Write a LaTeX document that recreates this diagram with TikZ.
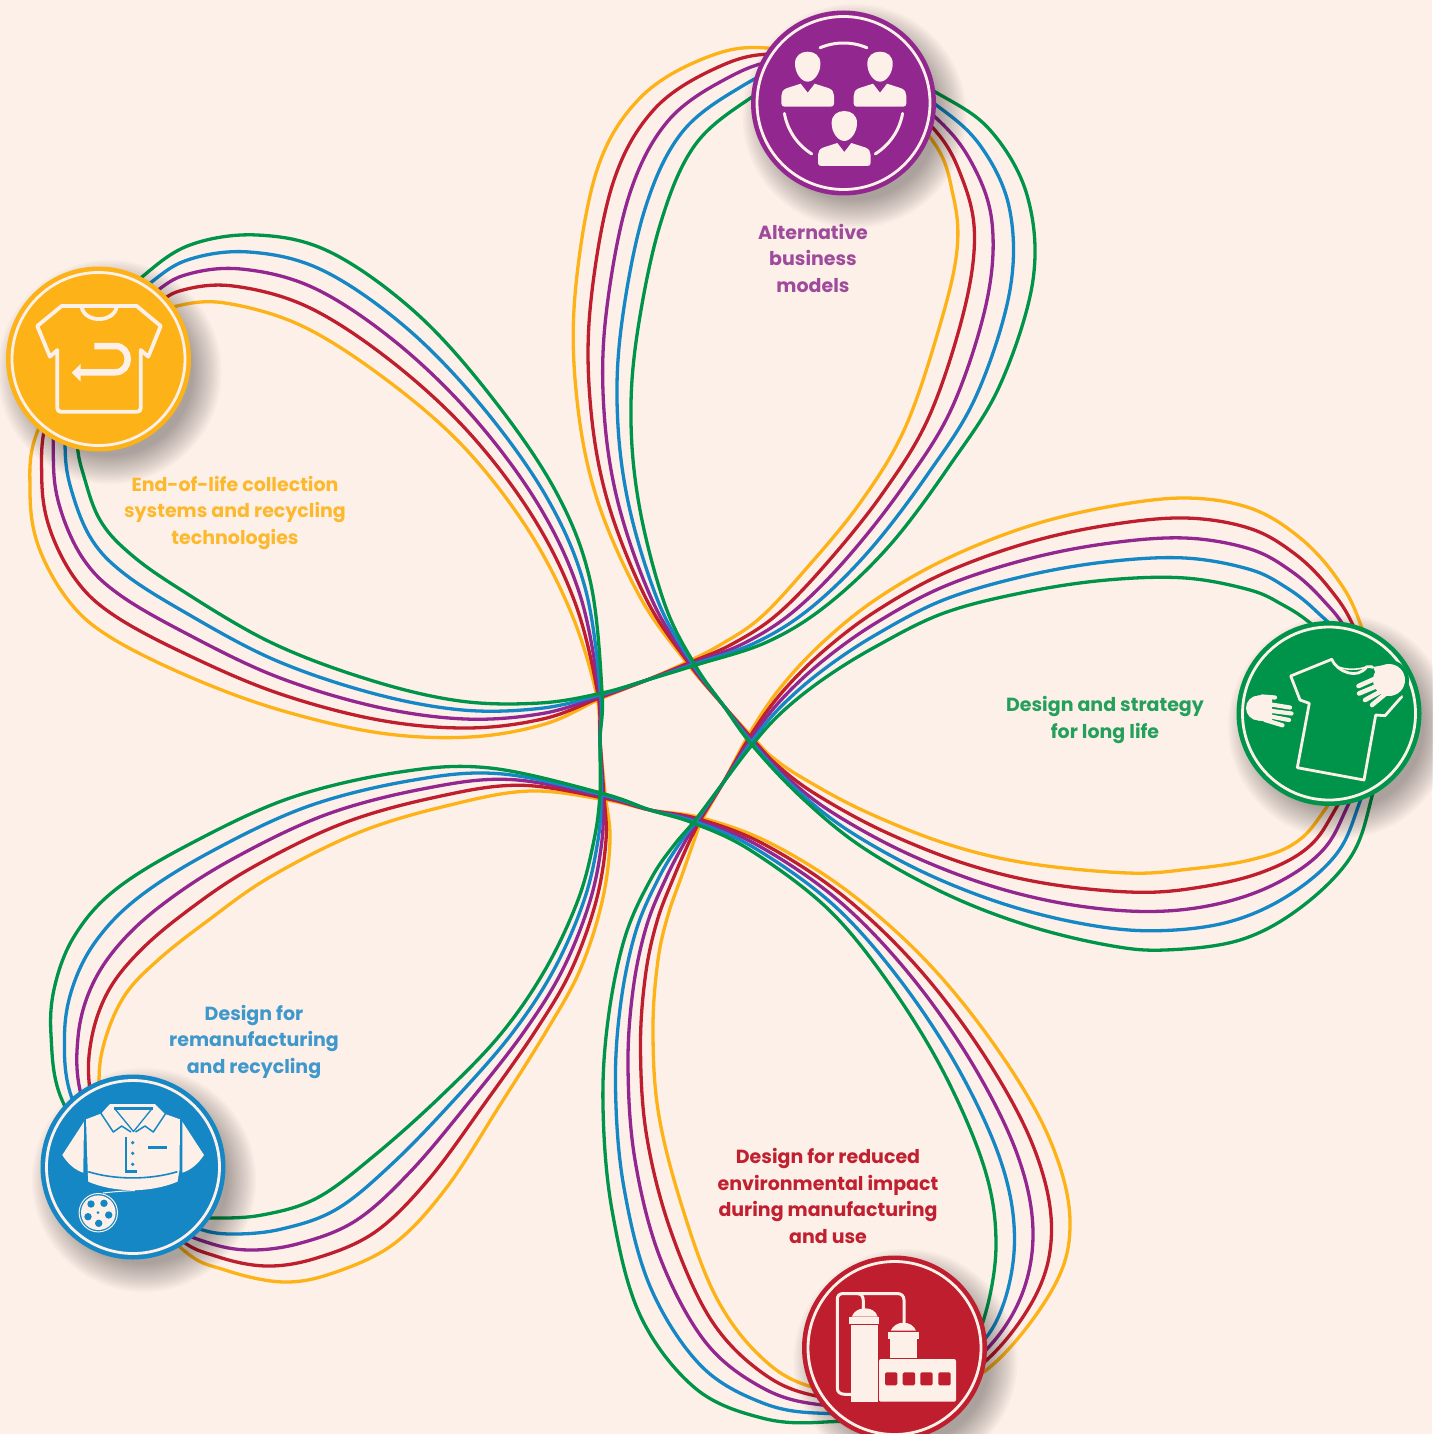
\documentclass[tikz,border=0pt]{standalone}
\usepackage{fontspec}
\setmainfont{Poppins}
\definecolor{bg}{HTML}{FDF0E9}
\definecolor{cY}{HTML}{FDB218}
\definecolor{cR}{HTML}{BE1E2D}
\definecolor{cP}{HTML}{92278F}
\definecolor{cB}{HTML}{1587C4}
\definecolor{cG}{HTML}{00944A}
\definecolor{tY}{HTML}{FDB92E}
\definecolor{tR}{HTML}{C0202F}
\definecolor{tP}{HTML}{9E4B9B}
\definecolor{tB}{HTML}{3F98CC}
\definecolor{tG}{HTML}{25A05C}
\newcommand\strandpts{723/705/723/705,687/663/695/665,640/597/665/605,597/499/640/510,577/400/631/422,575/295/637/335,597/170/660/225,640/98/695/145,705/58/752/97,767/48/800/72,860/70/870/60,932/140/937/93,953/195/990/130,957/250/1027/195,940/325/1033/280,905/428/1000/385,860/503/950/465,805/570/890/545,760/618/827/605,720/645/767/642,687/662/696/665,647/680/647/680,600/699/602/693,545/724/540/703,470/737/460/701,380/733/370/680,280/710/270/642,190/677/175/586,110/637/127/551,68/600/100/520,38/545/85/480,30/490/77/440,38/430/80/370,90/340/100/320,150/320/142/277,177/306/190/245,225/303/257/235,300/325/330/252,380/375/415/312,460/443/490/395,525/525/555/490,570/610/590/580,596/692/602/692,600/740/600/740,605/793/600/793,610/840/594/840,602/902/578/900,580/970/545/970,547/1030/500/1035,500/1105/440/1097,447/1187/375/1155,395/1243/317/1198,336/1272/262/1215,284/1282/214/1218,225/1270/190/1215,181/1248/160/1200,105/1165/110/1170,99/1085/62/1100,105/1040/51/1035,125/995/55/985,158/960/75/935,206/922/115/890,270/877/188/845,360/832/290/798,450/805/400/772,530/791/490/768,606/800/601/793,650/810/650/810,702/818/693/823,770/843/750/850,850/893/828/909,930/965/890/985,1000/1053/945/1075,1050/1140/985/1170,1070/1221/996/1245,1052/1290/985/1315,985/1371/965/1350,905/1400/900/1410,812/1387/825/1422,760/1356/762/1418,715/1295/695/1388,680/1200/640/1315,658/1110/612/1210,653/1027/603/1107,658/960/608/1020,668/915/625/937,682/875/652/877,695/838/678/840,702/820/693/823,723/783/723/783,751/731/752/745,781/687/781/713,822/643/822/680,875/600/875/647,944/560/944/613,1026/527/1026/592,1107/507/1107/580,1185/498/1185/578,1250/508/1250/590,1299/537/1283/605,1336/577/1309/622,1360/623/1340/650,1385/715/1385/720,1326/808/1371/800,1295/843/1350/858,1250/860/1300/908,1190/869/1240/940,1128/873/1165/950,1026/863/1107/945,944/843/1026/925,862/810/944/893,801/777/862/847,772/757/801/797,757/742/752/745}
\tikzset{
  x=1pt,y=-1pt,
  strand/.style={line width=3.3pt,line join=round},
  disc/.style={circle,inner sep=0pt,minimum size=185pt,fill=#1},
  ring/.style={draw=bg,line width=2.8pt},
  cream/.style={draw=bg,line width=#1,line cap=round,line join=round},
  caption/.style={align=center,inner sep=0pt,font=\fontsize{19}{26.5}\selectfont\bfseries},
}
\newcommand\drawstrand[2]{%
  \gdef\ptsacc{}%
  \foreach \xa/\ya/\xb/\yb in \strandpts {%
    \pgfmathsetmacro\px{\xa+#1*(\xb-\xa)}%
    \pgfmathsetmacro\py{\ya+#1*(\yb-\ya)}%
    \xdef\ptsacc{\ptsacc(\px,\py)}%
  }%
  \edef\tmpdraw{\noexpand\draw[strand,#2] plot[smooth cycle,tension=.6] coordinates {\ptsacc};}%
  \tmpdraw
}
\newcommand\shadowat[2]{%
  \foreach \r in {84,86,...,112} {\fill[black,opacity=.025] (#1+11,#2+13) circle[radius=\r pt];}%
}
\newcommand\person[2]{%
  \begin{scope}[shift={(#1,#2)}]
  \fill[bg] (0,15) .. controls (-6,15) and (-12.7,7) .. (-12.7,-3) .. controls (-12.7,-11) and (-7,-15) .. (0,-15) .. controls (7,-15) and (12.7,-11) .. (12.7,-3) .. controls (12.7,7) and (6,15) .. (0,15) -- cycle;
  \fill[bg] (-7,17) -- (0,26) -- (7,17) -- (21,21.5) .. controls (25,23) and (26.3,26) .. (26.3,29) -- (26.3,37) .. controls (26.3,39) and (25,40) .. (23,40) -- (-23,40) .. controls (-25,40) and (-26.3,39) .. (-26.3,37) -- (-26.3,29) .. controls (-26.3,26) and (-25,23) .. (-21,21.5) -- cycle;
  \end{scope}
}
\begin{document}
\begin{tikzpicture}
\useasboundingbox (0,0) rectangle (1432,1434);
\fill[bg] (0,0) rectangle (1432,1434);
% strands
\drawstrand{0}{cY}
\drawstrand{.25}{cR}
\drawstrand{.5}{cP}
\drawstrand{.75}{cB}
\drawstrand{1}{cG}
% shadows
\shadowat{843.5}{103}
\shadowat{98.5}{359}
\shadowat{1329}{713.5}
\shadowat{133}{1167}
\shadowat{894.5}{1348}
% discs
\node[disc=cP] (top) at (843.5,103) {};
\node[disc=cY] (yel) at (98.5,359) {};
\node[disc=cG] (grn) at (1329,713.5) {};
\node[disc=cB] (blu) at (133,1167) {};
\node[disc=cR] (red) at (894.5,1348) {};
\foreach \n in {top,yel,grn,blu,red} {\draw[ring] (\n) circle[radius=86.5pt];}
% top icon
\person{807.7}{66.7}
\person{880}{66.7}
\person{844.3}{126}
\draw[cream=3pt] plot[domain=247:293,samples=20,smooth] ({843.5+60*cos(\x)},{103+60*sin(\x)});
\draw[cream=3pt] plot[domain=170:122,samples=20,smooth] ({843.5+60*cos(\x)},{103+60*sin(\x)});
\draw[cream=3pt] plot[domain=10:58,samples=20,smooth] ({843.5+60*cos(\x)},{103+60*sin(\x)});
% yellow icon
\draw[cream=3.8pt] (61.7,306) -- (136.7,306) -- (160.7,326) -- (148.3,356.7) -- (140.7,350) -- (140.7,408) .. controls (140.7,411) and (139,411.7) .. (137,411.7) -- (61,411.7) .. controls (59,411.7) and (57.3,411) .. (57.3,408) -- (57.3,350) -- (50,356.7) -- (37.3,326) -- cycle;
\draw[cream=3.8pt] (81.7,307.3) .. controls (85,323) and (113,323) .. (116.7,307.3);
\draw[bg,line width=6.5pt] (94.3,346) -- (115,346) .. controls (132,346) and (132,372.3) .. (115,372.3) -- (78,372.3);
\fill[bg] (71.7,372.7) -- (80.7,364) -- (80.7,381.5) -- cycle;
% green icon
\draw[cream=2.8pt] (1331.7,659.3) -- (1290.7,676) -- (1300,700) -- (1309.3,703.3) -- (1297.3,767.7) -- (1364,780) -- (1375.7,715) -- (1385,715.7) -- (1401.7,696.7) -- (1371.7,666.7);
\draw[cream=2.8pt] (1331.7,659.3) .. controls (1337,672) and (1358,680) .. (1366.7,666.7) -- (1371.7,666.7);
\draw[cream=1.6pt] (1338,666.7) .. controls (1345,670) and (1358,670) .. (1366,667);
\fill[cG] (1389,680) circle[radius=20pt];
\fill[bg] (1389,680) circle[radius=16pt];
\fill[bg] (1373,667) -- (1390,664) -- (1395,690) -- (1385,695) -- cycle;
\draw[bg,line width=4.6pt,line cap=round] (1381,676) -- (1358.5,686);
\draw[bg,line width=4.6pt,line cap=round] (1384,683) -- (1359,693.5);
\draw[bg,line width=4.6pt,line cap=round] (1387,688) -- (1365,700);
\draw[bg,line width=4.6pt,line cap=round] (1390,690) -- (1372,705);
\fill[bg] (1258.5,708) circle[radius=12.5pt];
\fill[bg] (1258,695.5) -- (1272,695) -- (1272,722) -- (1258,720.5) -- cycle;
\draw[bg,line width=4.2pt,line cap=round] (1262,696.5) -- (1275,697.5);
\draw[bg,line width=4.2pt,line cap=round] (1268,704) -- (1290,707.5);
\draw[bg,line width=4.2pt,line cap=round] (1268,710.5) -- (1291.5,713.5);
\draw[bg,line width=4.2pt,line cap=round] (1268,716) -- (1289,720);
\draw[bg,line width=4.2pt,line cap=round] (1265,720) -- (1282.5,725.3);
% blue icon
\fill[bg] (84,1121.7) -- (62.3,1155) .. controls (68,1164) and (75,1170) .. (83.3,1172.7) -- cycle;
\fill[bg] (182.3,1121.7) -- (204,1155) .. controls (198,1164) and (191,1170) .. (182.3,1172.7) -- cycle;
\fill[bg] (86,1119.3) -- (100,1114) -- (110,1104) -- (155,1104) -- (165,1114) -- (180,1119.3) -- (179.5,1170) -- (177.5,1181.7) .. controls (150,1193) and (115,1193) .. (88.3,1181.7) -- (87.7,1170) -- cycle;
\draw[cB,line width=1.5pt,line join=round] (107.3,1105) -- (100.7,1113) -- (113.3,1132) -- (121.7,1126) -- (131,1132);
\draw[cB,line width=1.5pt,line join=round] (159.3,1105) -- (166,1113) -- (153.3,1132) -- (145,1126) -- (135.5,1132);
\draw[cB,line width=1.3pt,line join=round] (115,1109) -- (133.5,1131.5) -- (151.7,1109);
\draw[cB,line width=2.2pt] (114,1108.5) -- (152.5,1108.5);
\draw[cB,line width=1.6pt] (88.3,1171.7) .. controls (115,1180) and (150,1180) .. (177.3,1171.7);
\draw[cB,line width=2.4pt] (126,1136.7) -- (126,1171.5) -- (137.3,1171.5);
\fill[cB] (132.7,1142.7) circle[radius=1.8pt] (132.7,1153.3) circle[radius=1.8pt] (132.7,1164.3) circle[radius=1.8pt];
\draw[cB,line width=2.8pt] (148.3,1147.7) -- (166.7,1147.7);
\draw[bg,line width=1pt] (103,1193) .. controls (115,1191.5) and (125,1191) .. (135,1190.5);
\draw[bg,line width=1pt] (98.3,1212.7) circle[radius=19.2pt];
\fill[bg] (98.3,1212.7) circle[radius=17.3pt];
\fill[cB] (91,1204) circle[radius=3.7pt] (104,1203.3) circle[radius=3.7pt] (108.7,1215) circle[radius=3.7pt] (98.7,1223.3) circle[radius=3.7pt] (88,1216.7) circle[radius=3.7pt] (98,1212.7) circle[radius=1.5pt];
% red icon
\draw[cream=3pt] (863.3,1308.3) -- (863.3,1301) .. controls (863.3,1296) and (861,1293.5) .. (857,1293.5) -- (843.3,1293.5) .. controls (839,1293.5) and (837.3,1296) .. (837.3,1299.5) -- (837.3,1388) .. controls (837.3,1392) and (840,1394.3) .. (845,1394.3) -- (851,1394.3);
\draw[cream=3pt] (857,1293.5) -- (897,1293.5) .. controls (901.5,1293.5) and (904,1296) .. (904,1300) -- (904,1322.7);
\fill[bg] (851.7,1316.7) .. controls (854,1311) and (859,1308.3) .. (865,1308.3) .. controls (871,1308.3) and (876,1311) .. (877.7,1316.7) -- cycle;
\fill[bg] (849,1317.3) rectangle (879,1324);
\fill[bg] (851,1324.6) rectangle (878.3,1401.7);
\fill[bg] (890.7,1330.7) .. controls (893,1325.5) and (898,1322.7) .. (903.3,1322.7) .. controls (909,1322.7) and (914,1325.5) .. (916,1330.7) -- cycle;
\fill[bg] (887.7,1332) rectangle (919,1339);
\fill[bg] (890,1339) rectangle (917.3,1358.3);
\fill[bg,rounded corners=2pt] (879,1359) rectangle (956,1401.7);
\foreach \wx in {885,902.7,920.3,938.3} {\fill[cR,rounded corners=1.5pt] (\wx,1372.3) rectangle (\wx+12.4,1385.3);}
% captions
\node[caption,text=tP] (ltop) at (813,258) {Alternative\\business\\models};
\node[caption,text=tY] (lyel) at (235,512.5) {End-of-life collection\\systems and recycling\\technologies};
\node[caption,text=tG] (lgrn) at (1105,720) {Design and strategy\\for long life};
\node[caption,text=tB] (lblu) at (254,1041.5) {Design for\\remanufacturing\\and recycling};
\node[caption,text=tR] (lred) at (828,1196) {Design for reduced\\environmental impact\\during manufacturing\\and use};
\end{tikzpicture}
\end{document}
